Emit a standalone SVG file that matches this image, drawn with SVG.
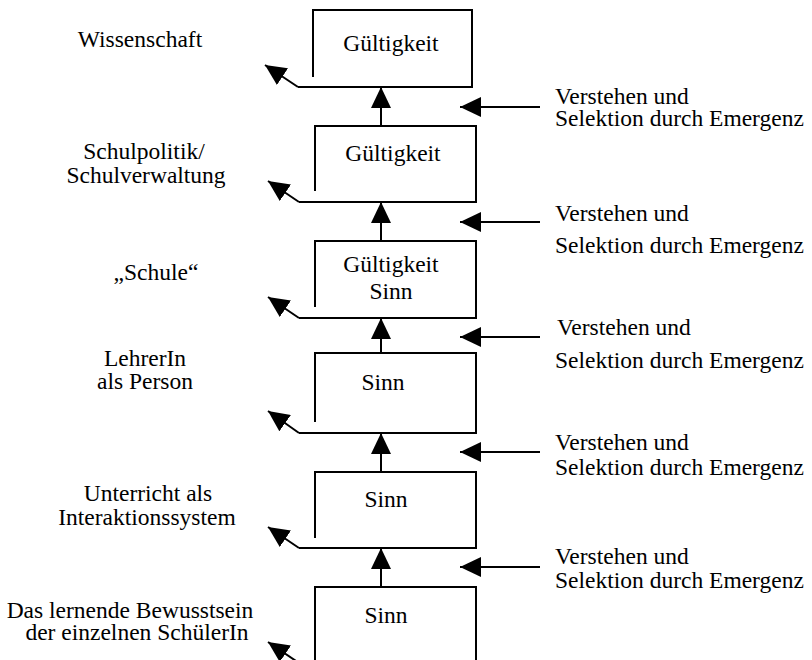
<svg xmlns="http://www.w3.org/2000/svg" width="812" height="660" viewBox="0 0 812 660">
<style>
  text { font-family: "Liberation Serif", "Times New Roman", serif; font-size: 23.5px; fill: #000; }
  .c { text-anchor: middle; }
  .box { fill: none; stroke: #000; stroke-width: 2; }
  .con { fill: none; stroke: #000; stroke-width: 2; }
</style>
<defs>
  <marker id="ah" markerUnits="userSpaceOnUse" markerWidth="22" markerHeight="20" refX="21" refY="10" orient="auto">
    <path d="M0,0 L21,10 L0,20 z" fill="#000"/>
  </marker>
</defs>
<rect width="812" height="660" fill="#fff"/>

<g id="label-wissenschaft"><text class="c" x="140" y="47">Wissenschaft</text></g>
<g id="label-schulpolitik"><text class="c" x="144" y="159">Schulpolitik/</text><text class="c" x="146" y="183">Schulverwaltung</text></g>
<g id="label-schule"><text class="c" x="156" y="280">„Schule“</text></g>
<g id="label-lehrerin"><text class="c" x="145" y="366">LehrerIn</text><text class="c" x="145" y="389">als Person</text></g>
<g id="label-unterricht"><text class="c" x="148" y="501">Unterricht als</text><text class="c" x="147" y="525">Interaktionssystem</text></g>
<g id="label-bewusstsein"><text class="c" x="130" y="618">Das lernende Bewusstsein</text><text class="c" x="137" y="640">der einzelnen SchülerIn</text></g>

<g id="node-1">
  <path class="box" d="M313,77 V10 H472 V87 H298"/>
  <text class="c" x="391" y="51">Gültigkeit</text>
</g>
<g id="node-2">
  <path class="box" d="M315,191 V126 H476 V202 H299"/>
  <text class="c" x="393" y="161">Gültigkeit</text>
</g>
<g id="node-3">
  <path class="box" d="M315,307 V241 H476 V318 H299"/>
  <text class="c" x="391" y="272">Gültigkeit</text>
  <text class="c" x="391" y="299">Sinn</text>
</g>
<g id="node-4">
  <path class="box" d="M315,422 V353 H476 V433 H299"/>
  <text class="c" x="383" y="390">Sinn</text>
</g>
<g id="node-5">
  <path class="box" d="M315,538 V472 H476 V548 H299"/>
  <text class="c" x="386" y="507">Sinn</text>
</g>
<g id="node-6">
  <path class="box" d="M315,665 V587 H476 V665"/>
  <text class="c" x="386" y="623">Sinn</text>
</g>

<g id="right-labels">
  <text x="555" y="104">Verstehen und</text><text x="555" y="126">Selektion durch Emergenz</text>
  <text x="555" y="221">Verstehen und</text><text x="555" y="253">Selektion durch Emergenz</text>
  <text x="557" y="335">Verstehen und</text><text x="555" y="368">Selektion durch Emergenz</text>
  <text x="555" y="450">Verstehen und</text><text x="555" y="475">Selektion durch Emergenz</text>
  <text x="555" y="564">Verstehen und</text><text x="555" y="588">Selektion durch Emergenz</text>
</g>

<g id="connectors">
  <path class="con" d="M298,87 L265,65" marker-end="url(#ah)"/>
  <path class="con" d="M299,202 L268,181" marker-end="url(#ah)"/>
  <path class="con" d="M299,318 L268,297" marker-end="url(#ah)"/>
  <path class="con" d="M299,433 L268,411" marker-end="url(#ah)"/>
  <path class="con" d="M299,548 L268,527" marker-end="url(#ah)"/>
  <path class="con" d="M299,663 L268,642" marker-end="url(#ah)"/>

  <path class="con" d="M381,126 V87" marker-end="url(#ah)"/>
  <path class="con" d="M381,241 V202" marker-end="url(#ah)"/>
  <path class="con" d="M381,353 V318" marker-end="url(#ah)"/>
  <path class="con" d="M381,472 V433" marker-end="url(#ah)"/>
  <path class="con" d="M381,587 V548" marker-end="url(#ah)"/>

  <path class="con" d="M540,107 H460" marker-end="url(#ah)"/>
  <path class="con" d="M540,222 H460" marker-end="url(#ah)"/>
  <path class="con" d="M540,337 H460" marker-end="url(#ah)"/>
  <path class="con" d="M540,452 H460" marker-end="url(#ah)"/>
  <path class="con" d="M540,567 H460" marker-end="url(#ah)"/>
</g>
</svg>
